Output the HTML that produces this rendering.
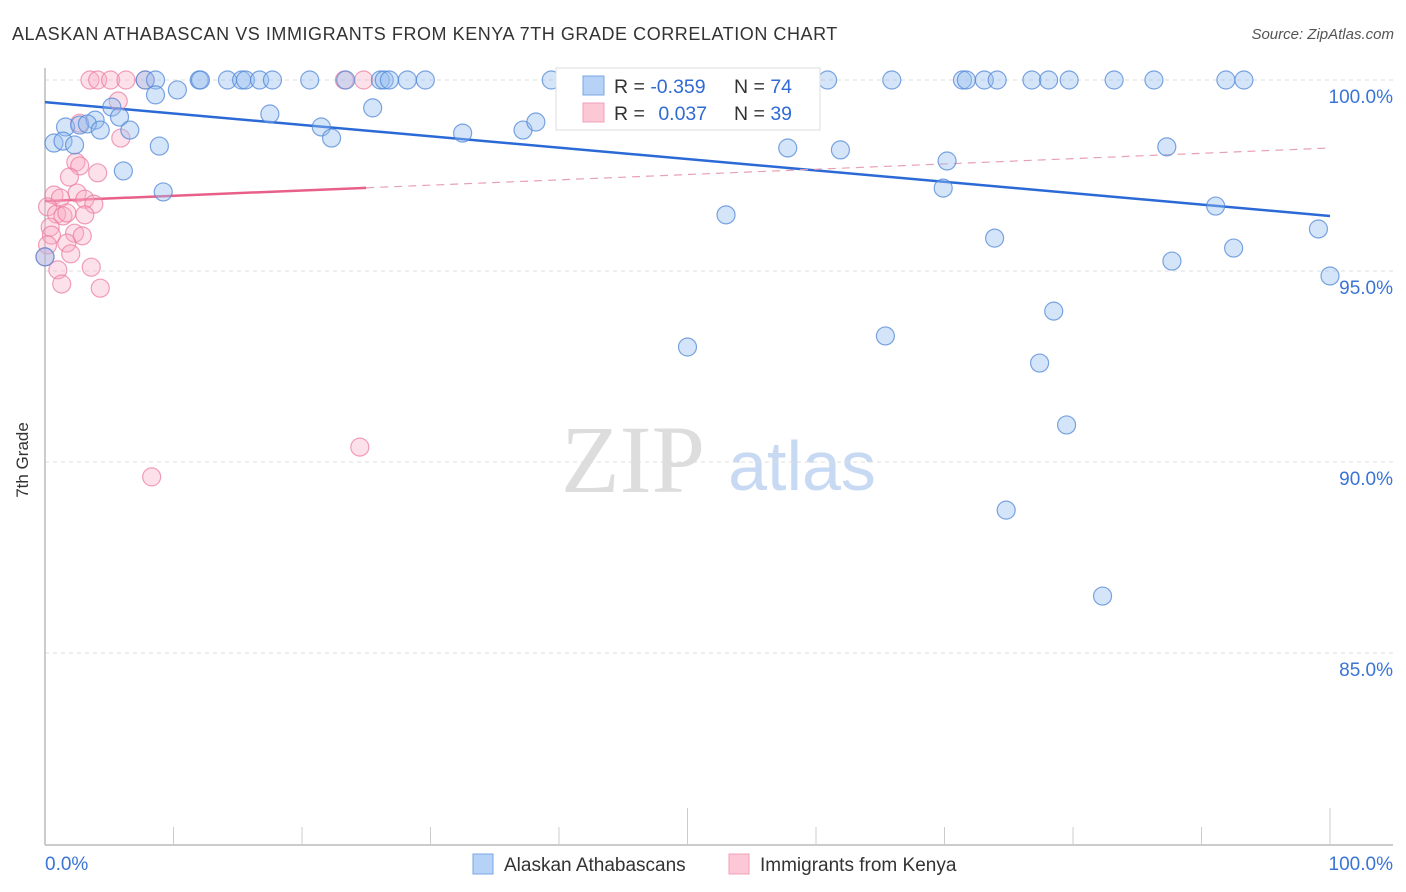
<!DOCTYPE html>
<html><head><meta charset="utf-8"><style>
body{margin:0;background:#fff;font-family:"Liberation Sans",sans-serif;}
svg{display:block}
</style></head><body>
<svg id="chart" width="1406" height="892" viewBox="0 0 1406 892" xmlns="http://www.w3.org/2000/svg">
<text x="12" y="40" font-size="18" fill="#333" letter-spacing="0.55">ALASKAN ATHABASCAN VS IMMIGRANTS FROM KENYA 7TH GRADE CORRELATION CHART</text>
<text x="1394" y="39" font-size="15" fill="#555" font-style="italic" text-anchor="end">Source: ZipAtlas.com</text>
<g>
<text x="633" y="492" font-size="96" font-family="Liberation Serif,serif" fill="#ddd" text-anchor="middle">ZIP</text>
<text x="802" y="490" font-size="70" fill="#c8daf3" text-anchor="middle">atlas</text>
</g>
<g id="grid"></g>
<g id="axes"></g>
<g id="lines"></g>
<g id="pts"></g>
<text x="28" y="460" font-size="17" fill="#333" text-anchor="middle" transform="rotate(-90 28 460)">7th Grade</text>
<g>
<rect x="556" y="68" width="264" height="62" fill="#fff" stroke="#ddd"/>
<rect x="583" y="76" width="21" height="19" fill="#b6d2f6" stroke="#7aa6e3"/>
<rect x="583" y="103" width="21" height="19" fill="#fcc8d6" stroke="#f0a0b8"/>
<text x="614" y="93" font-size="19.5" fill="#333">R = <tspan fill="#2f6bd3">-0.359</tspan></text>
<text x="734" y="93" font-size="19.5" fill="#333">N = <tspan fill="#2f6bd3">74</tspan></text>
<text x="614" y="120" font-size="19.5" fill="#333">R = <tspan fill="#2f6bd3" dx="8">0.037</tspan></text>
<text x="734" y="120" font-size="19.5" fill="#333">N = <tspan fill="#2f6bd3">39</tspan></text>
</g>
<g>
<rect x="473" y="854" width="20" height="20" fill="#b6d2f6" stroke="#7aa6e3"/>
<text x="504" y="871" font-size="19" fill="#333">Alaskan Athabascans</text>
<rect x="729" y="854" width="20" height="20" fill="#fcc8d6" stroke="#f0a0b8"/>
<text x="760" y="871" font-size="19" fill="#333">Immigrants from Kenya</text>
</g>
</svg>
<script>
const yTicks=[100,95,90,85];
const yTickLabels=["100.0%","95.0%","90.0%","85.0%"];
const xTickLabels=["0.0%","100.0%"];
const blueX=[7.8,8.6,12.0,12.1,14.2,15.3,15.6,16.7,17.7,20.6,23.4,26.1,26.4,26.8,28.2,29.6,39.4,41.2,60.9,65.9,71.4,71.7,73.1,74.1,76.8,78.1,79.7,83.2,86.3,91.9,93.3,
8.6,10.3,5.2,5.8,1.6,2.7,3.9,3.3,4.3,6.6,0.7,1.4,2.3,8.9,6.1,9.2,17.5,21.5,22.3,25.5,32.5,37.2,38.2,57.8,61.9,70.2,69.9,53.0,73.9,91.1,87.3,99.1,92.5,87.7,100,78.5,65.4,50.0,77.4,79.5,74.8,82.3,0];
const blueY=[100,100,100,100,100,100,100,100,100,100,100,100,100,100,100,100,100,100,100,100,100,100,100,100,100,100,100,100,100,100,100,
99.61,99.74,99.29,99.03,98.77,98.82,98.95,98.85,98.69,98.69,98.35,98.40,98.30,98.27,97.62,97.07,99.11,98.77,98.48,99.27,98.61,98.69,98.90,98.22,98.17,97.88,97.17,96.47,95.86,96.70,98.25,96.10,95.60,95.26,94.87,93.95,93.30,93.01,92.59,90.97,88.74,86.49,95.37];
const pinkX=[3.5,4.1,5.1,6.3,7.8,23.3,24.8,5.7,2.7,5.9,2.4,2.7,4.1,1.9,0.7,2.5,3.1,1.2,0.2,0.9,1.4,1.7,3.8,3.1,0.4,2.3,2.9,1.7,2.0,0.5,0.2,1.0,1.3,3.6,4.3,8.3,24.5,0];
const pinkY=[100,100,100,100,100,100,100,99.45,98.87,98.48,97.85,97.75,97.57,97.46,96.99,97.04,96.88,96.91,96.68,96.49,96.44,96.52,96.75,96.47,96.15,95.99,95.92,95.73,95.45,95.94,95.68,95.03,94.66,95.10,94.55,89.61,90.39,95.37];
const blueTrend=[99.42,96.44];
const pinkTrend=[96.83,98.22];
const pinkSolidEnd=25;
const X0=45,X1=1330,Ytop=80,pxPerPct=38.2;
const xs=p=>X0+p*(X1-X0)/100;
const ys=v=>Ytop+(100-v)*pxPerPct;
const NS="http://www.w3.org/2000/svg";
function mk(tag,attrs,parent){const e=document.createElementNS(NS,tag);for(const k in attrs)e.setAttribute(k,attrs[k]);document.getElementById(parent).appendChild(e);return e;}
yTicks.forEach((v,i)=>{
 const g=mk('line',{x1:X0,x2:1393,y1:ys(v),y2:ys(v),stroke:'#ddd','stroke-dasharray':'4 4'},'grid');
 
 
 const t=mk('text',{x:1393,y:ys(v)+23,'font-size':19,fill:'#3a74d6','text-anchor':'end'},'grid');
 t.textContent=yTickLabels[i];
 
 
});
const ax=mk('line',{x1:X0,x2:1393,y1:845,y2:845,stroke:'#bbb','stroke-width':1.5},'axes');


const ay=mk('line',{x1:X0,x2:X0,y1:68,y2:845,stroke:'#bbb','stroke-width':1.5},'axes');


for(let i=1;i<=10;i++){
 const big=(i===5||i===10);
 const tk=mk('line',{x1:xs(i*10),x2:xs(i*10),y1:big?808:827,y2:845,stroke:'#ccc'},'axes');
 
 
}
const xl0=mk('text',{x:45,y:870,'font-size':19,fill:'#3a74d6'},'axes');xl0.textContent=xTickLabels[0];


const xl1=mk('text',{x:1393,y:870,'font-size':19,fill:'#3a74d6','text-anchor':'end'},'axes');xl1.textContent=xTickLabels[1];


function pts(X,Y,fill,stroke,name){
 X.forEach((x,i)=>{
  const c=mk('circle',{cx:xs(x),cy:ys(Y[i]),r:9,fill:fill,stroke:stroke,'stroke-width':1.2},'pts');
  
  
 });
}
pts(pinkX,pinkY,'rgba(248,170,195,0.35)','rgba(235,120,155,0.7)','point-kenya');
pts(blueX,blueY,'rgba(150,190,240,0.4)','rgba(80,135,215,0.75)','point-alaskan');
const tv=(t,x)=>t[0]+(t[1]-t[0])*x/100;
const bl=mk('line',{x1:xs(0),y1:ys(tv(blueTrend,0)),x2:xs(100),y2:ys(tv(blueTrend,100)),stroke:'#2b6ad6','stroke-width':2.5},'lines');


const pl=mk('line',{x1:xs(0),y1:ys(tv(pinkTrend,0)),x2:xs(pinkSolidEnd),y2:ys(tv(pinkTrend,pinkSolidEnd)),stroke:'#e8608a','stroke-width':2.5},'lines');


const pd=mk('line',{x1:xs(pinkSolidEnd),y1:ys(tv(pinkTrend,pinkSolidEnd)),x2:xs(100),y2:ys(tv(pinkTrend,100)),stroke:'#e8a0b5','stroke-width':1.2,'stroke-dasharray':'8 6'},'lines');


</script>
</body></html>
